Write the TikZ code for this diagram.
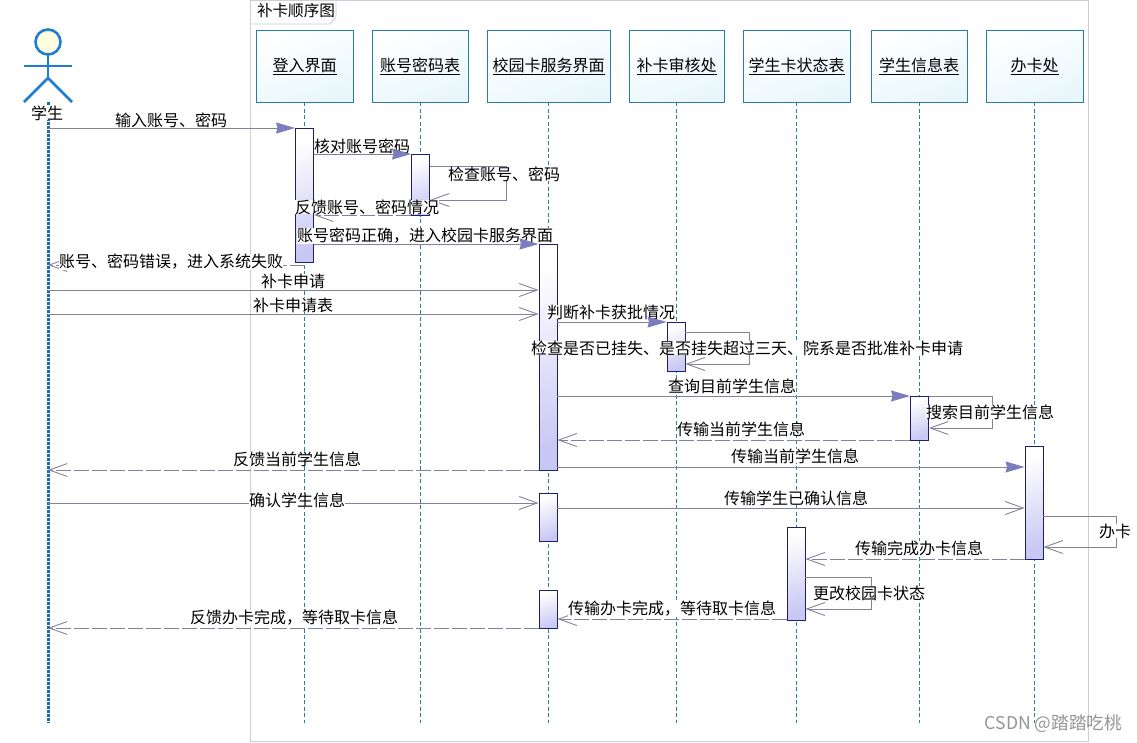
\documentclass[tikz,border=0pt]{standalone}
\usepackage{fontspec}
\setmainfont{Noto Sans CJK SC}
\usetikzlibrary{arrows.meta}
\definecolor{boxblue}{RGB}{40,125,165}
\definecolor{boxfill}{RGB}{232,247,251}
\definecolor{lifeblue}{RGB}{45,125,160}
\definecolor{actorblue}{RGB}{30,125,210}
\definecolor{barnavy}{RGB}{30,30,110}
\definecolor{barfill}{RGB}{200,200,244}
\definecolor{msggray}{RGB}{130,130,155}
\definecolor{tipfill}{RGB}{125,125,190}
\definecolor{framegray}{RGB}{205,205,215}
\tikzset{
  objbox/.style={draw=boxblue, line width=0.9pt, top color=boxfill, bottom color=white, shading angle=200,
    minimum height=72pt, inner sep=0pt, font=\fontsize{16}{18}\selectfont},
  lifeline/.style={lifeblue, dashed, dash pattern=on 4pt off 2.5pt, line width=0.8pt},
  actbar/.style={draw=barnavy, line width=0.9pt, top color=white, bottom color=barfill, shading angle=20,
    minimum width=18pt, inner sep=0pt, anchor=north},
  callmsg/.style={msggray, line width=0.9pt, -{Stealth[length=19pt,width=11pt,inset=1.5pt,fill=tipfill,tipfill]}},
  openmsg/.style={msggray, line width=0.9pt, -{Straight Barb[length=18pt,width=13pt,line width=0.9pt]}},
  backmsg/.style={openmsg, dash pattern=on 15pt off 3pt},
  msgtext/.style={fill=white, inner sep=0pt, font=\fontsize{16}{18}\selectfont},
  actorline/.style={actorblue, line width=2.6pt}
}
\begin{document}
\begin{tikzpicture}[x=1pt,y=-1pt]
    \useasboundingbox (0,0) rectangle (1137,742);
    % Frame
    \draw[framegray, line width=0.9pt] (250,0) rectangle (1088,741);
    \draw[framegray, line width=0.9pt] (250,24) -- (330,24) -- (336,17) -- (336,0);
    \node[inner sep=0pt, font=\fontsize{15.6}{18}\selectfont] (frametitle) at (296,11) {补卡顺序图};
    % Objects
    \node[objbox, minimum width=97pt] (login) at (304.5,66) {\underline{登入界面}};
    \node[objbox, minimum width=96pt] (account) at (420,66) {\underline{账号密码表}};
    \node[objbox, minimum width=123pt] (service) at (548.5,66) {\underline{校园卡服务界面}};
    \node[objbox, minimum width=95pt] (audit) at (676.5,66) {\underline{补卡审核处}};
    \node[objbox, minimum width=107pt] (state) at (796.5,66) {\underline{学生卡状态表}};
    \node[objbox, minimum width=96pt] (info) at (919,66) {\underline{学生信息表}};
    \node[objbox, minimum width=97pt] (office) at (1034.5,66) {\underline{办卡处}};
    % Actor
    \coordinate (student) at (48,102);
    \draw[actorline, fill=yellow!12] (48,42) circle (12.5pt);
    \draw[actorline] (48,54.5) -- (48,78);
    \draw[actorline] (24,66) -- (72,66);
    \draw[actorline] (24,102) -- (48,78) -- (72,102);
    % Lifelines
    \coordinate (lineend) at (0,723);
    \draw[actorblue!85!black, line width=3pt, dash pattern=on 2.5pt off 1.5pt] (student) -- (student |- lineend);
    \draw[lifeline] (login) -- (login |- lineend);
    \draw[lifeline] (account) -- (account |- lineend);
    \draw[lifeline] (service) -- (service |- lineend);
    \draw[lifeline] (audit) -- (audit |- lineend);
    \draw[lifeline] (state) -- (state |- lineend);
    \draw[lifeline] (info) -- (info |- lineend);
    \draw[lifeline] (office) -- (office |- lineend);
    % Activation bars
    \node[actbar, minimum height=134pt] (loginbar) at (304.5,128) {};
    \node[actbar, minimum height=61pt] (accountbar) at (420.5,154) {};
    \node[actbar, minimum height=226pt] (servicebara) at (548,244) {};
    \node[actbar, minimum height=48pt] (servicebarb) at (548,493) {};
    \node[actbar, minimum height=38pt] (servicebarc) at (548,590) {};
    \node[actbar, minimum height=49pt] (auditbar) at (676,322) {};
    \node[actbar, minimum height=44pt] (infobar) at (919.5,396) {};
    \node[actbar, minimum height=113pt] (officebar) at (1034,446) {};
    \node[actbar, minimum height=93pt] (statebar) at (796,527) {};
    % Message heights
    \coordinate (ma) at (0,128);
    \coordinate (mb) at (0,154);
    \coordinate (mc) at (0,166);
    \coordinate (md) at (0,200);
    \coordinate (me) at (0,215);
    \coordinate (mf) at (0,244);
    \coordinate (mg) at (0,265);
    \coordinate (mh) at (0,290);
    \coordinate (mi) at (0,314);
    \coordinate (mj) at (0,322);
    \coordinate (mk) at (0,332);
    \coordinate (ml) at (0,364);
    \coordinate (mm) at (0,396);
    \coordinate (mn) at (0,428);
    \coordinate (mo) at (0,440);
    \coordinate (mp) at (0,470);
    \coordinate (mq) at (0,467);
    \coordinate (mr) at (0,503);
    \coordinate (ms) at (0,508);
    \coordinate (mt) at (0,516);
    \coordinate (mu) at (0,547);
    \coordinate (mv) at (0,559);
    \coordinate (mw) at (0,577);
    \coordinate (mx) at (0,609);
    \coordinate (my) at (0,619);
    \coordinate (mz) at (0,628);
    % Messages
    \draw[openmsg] (mc -| accountbar.east) -- ++(76,0) |- (md -| accountbar.east);
    \draw[backmsg] (me -| accountbar.west) -- (me -| loginbar.east);
    \draw[backmsg] (mg -| login) -- (mg -| student);
    \draw[openmsg] (mh -| student) -- (mh -| servicebara.west);
    \draw[openmsg] (mi -| student) -- (mi -| servicebara.west);
    \draw[openmsg] (mk -| auditbar.east) -- ++(64,0) |- (ml -| auditbar.east);
    \draw[openmsg] (mm -| infobar.east) -- ++(63,0) |- (mn -| infobar.east);
    \draw[backmsg] (mo -| infobar.west) -- (mo -| servicebara.east);
    \draw[backmsg] (mp -| servicebara.west) -- (mp -| student);
    \draw[openmsg] (mr -| student) -- (mr -| servicebarb.west);
    \draw[openmsg] (ms -| servicebarb.east) -- (ms -| officebar.west);
    \draw[openmsg] (mt -| officebar.east) -- ++(73,0) |- (mu -| officebar.east);
    \draw[backmsg] (mv -| officebar.west) -- (mv -| statebar.east);
    \draw[openmsg] (mw -| statebar.east) -- ++(66,0) |- (mx -| statebar.east);
    \draw[backmsg] (my -| statebar.west) -- (my -| servicebarc.east);
    \draw[backmsg] (mz -| servicebarc.west) -- (mz -| student);
    % Labels
    \node[msgtext] (studentname) at (47,113) {学生};
    \node[msgtext] (ta) at (171,120) {输入账号、密码};
    \node[msgtext] (tb) at (362,146) {核对账号密码};
    \node[msgtext] (tc) at (504,174) {检查账号、密码};
    \node[msgtext] (td) at (367,207) {反馈账号、密码情况};
    \node[msgtext] (te) at (425,236) {账号密码正确，进入校园卡服务界面};
    \node[msgtext] (tf) at (171,262) {账号、密码错误，进入系统失败};
    \node[msgtext] (tg) at (293,281) {补卡申请};
    \node[msgtext] (th) at (293,305) {补卡申请表};
    \node[msgtext] (ti) at (611,312) {判断补卡获批情况};
    \node[msgtext] (tj) at (747,348) {检查是否已挂失、是否挂失超过三天、院系是否批准补卡申请};
    \node[msgtext] (tk) at (732,386) {查询目前学生信息};
    \node[msgtext] (tl) at (990,412) {搜索目前学生信息};
    \node[msgtext] (tm) at (741,429) {传输当前学生信息};
    \node[msgtext] (tn) at (297,459) {反馈当前学生信息};
    \node[msgtext] (to) at (795,456) {传输当前学生信息};
    \node[msgtext] (tp) at (297,500) {确认学生信息};
    \node[msgtext] (tq) at (796,498) {传输学生已确认信息};
    \node[msgtext] (tr) at (1115,531) {办卡};
    \node[msgtext] (ts) at (919,548) {传输完成办卡信息};
    \node[msgtext] (tt) at (869,593) {更改校园卡状态};
    \node[msgtext] (tu) at (672,609) {传输办卡完成，等待取卡信息};
    \node[msgtext] (tv) at (294,618) {反馈办卡完成，等待取卡信息};
    % Filled arrows go over the labels
    \draw[callmsg] (ma -| student) -- (ma -| loginbar.west);
    \draw[callmsg] (mb -| loginbar.east) -- (mb -| accountbar.west);
    \draw[callmsg] (mf -| loginbar.east) -- (mf -| servicebara.west);
    \draw[callmsg] (mj -| servicebara.east) -- (mj -| auditbar.west);
    \draw[callmsg] (mm -| servicebara.east) -- (mm -| infobar.west);
    \draw[callmsg] (mq -| servicebara.east) -- (mq -| officebar.west);
    % Watermark
    \node[inner sep=0pt, text=black!42, font=\fontsize{17.6}{20}\selectfont] (mark) at (1053.5,724) {CSDN @踏踏吃桃};
\end{tikzpicture}
\end{document}
